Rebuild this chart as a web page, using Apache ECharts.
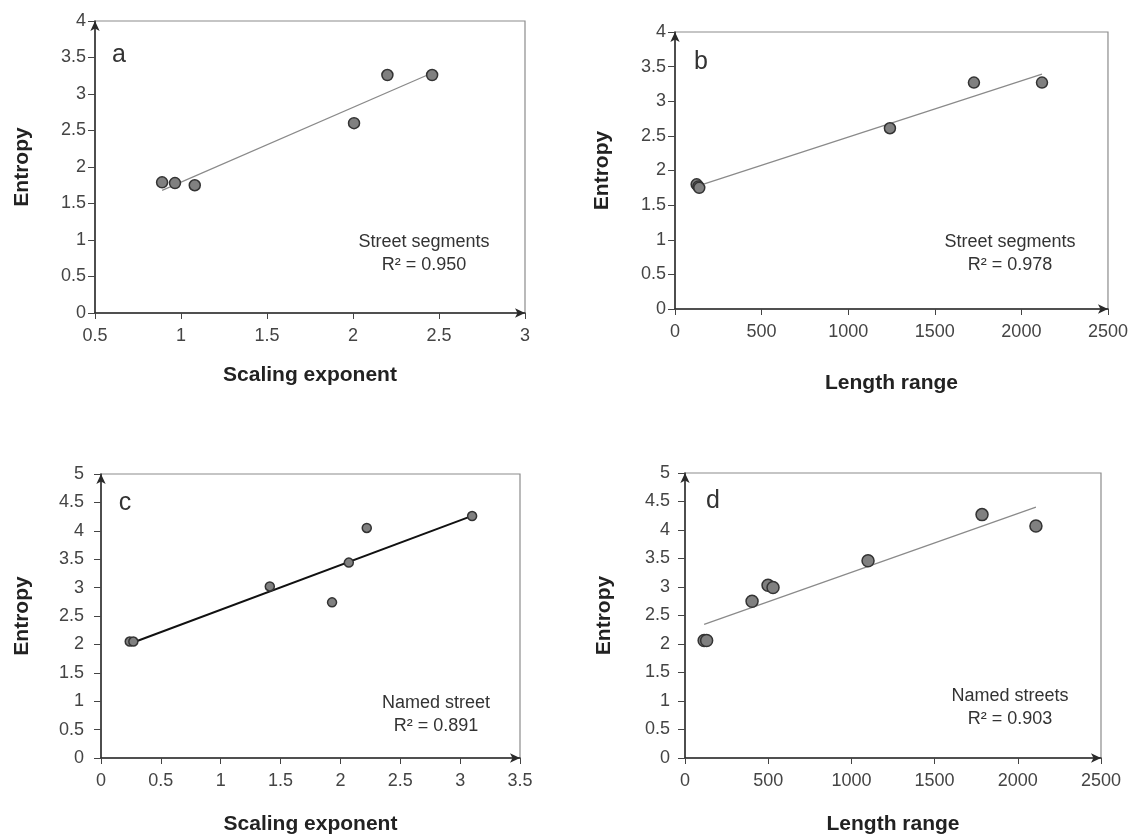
<!DOCTYPE html>
<html>
<head>
<meta charset="utf-8">
<script src="https://cdn.jsdelivr.net/npm/echarts@6/dist/echarts.min.js"></script>
<style>html,body{margin:0;padding:0;background:#fff;}#c{width:1131px;height:836px;}</style>
</head>
<body>
<div id="c"></div>
<script>
// Panel a: Entropy vs scaling exponent (street segments)
const aX = [0.89, 0.965, 1.08, 2.006, 2.2, 2.46];
const aY = [1.79, 1.78, 1.75, 2.60, 3.26, 3.26];
// Panel b: Entropy vs length range (street segments)
const bX = [125, 135, 140, 1241, 1726, 2119];
const bY = [1.80, 1.77, 1.75, 2.61, 3.27, 3.27];
// Panel c: Entropy vs scaling exponent (named streets)
const cX = [0.24, 0.27, 1.41, 1.93, 2.07, 2.22, 3.10];
const cY = [2.05, 2.05, 3.02, 2.74, 3.44, 4.05, 4.26];
// Panel d: Entropy vs length range (named streets)
const dX = [115, 130, 403, 499, 529, 1100, 1785, 2109];
const dY = [2.06, 2.06, 2.75, 3.03, 2.99, 3.46, 4.27, 4.07];

const panelLetters = ['a', 'b', 'c', 'd'];
const panelNotes = ['Street segments\nR² = 0.950', 'Street segments\nR² = 0.978',
                    'Named street\nR² = 0.891', 'Named streets\nR² = 0.903'];
const xNames = ['Scaling exponent', 'Length range', 'Scaling exponent', 'Length range'];
const yName = 'Entropy';

function fit(xs, ys) {
  const n = xs.length;
  const mx = xs.reduce((s, v) => s + v, 0) / n;
  const my = ys.reduce((s, v) => s + v, 0) / n;
  let sxy = 0, sxx = 0;
  for (let i = 0; i < n; i++) { sxy += (xs[i] - mx) * (ys[i] - my); sxx += (xs[i] - mx) ** 2; }
  const k = sxy / sxx, b = my - k * mx;
  const x0 = Math.min(...xs), x1 = Math.max(...xs);
  return [[x0, k * x0 + b], [x1, k * x1 + b]];
}
const pts = (xs, ys) => xs.map((x, i) => [x, ys[i]]);

const FONT = '"Liberation Sans", Arial, sans-serif';
const grids = [
  {left: 95, top: 21, width: 430, height: 292},
  {left: 675, top: 32, width: 433, height: 277},
  {left: 101, top: 474, width: 419, height: 285},
  {left: 685, top: 473, width: 416, height: 289}
];
const xCfg = [
  {min: 0.5, max: 3, interval: 0.5, gap: 52},
  {min: 0, max: 2500, interval: 500, gap: 64},
  {min: 0, max: 3.5, interval: 0.5, gap: 56},
  {min: 0, max: 2500, interval: 500, gap: 56}
];
const yCfg = [
  {max: 4, gap: 62, margin: 9},
  {max: 4, gap: 62, margin: 9},
  {max: 5, gap: 68, margin: 17},
  {max: 5, gap: 70, margin: 15}
];
const data = [[aX, aY], [bX, bY], [cX, cY], [dX, dY]];
const symSizes = [11, 11, 9, 12];
const lineStyles = [
  {color: '#8a8a8a', width: 1.2},
  {color: '#8a8a8a', width: 1.2},
  {color: '#111', width: 2},
  {color: '#8a8a8a', width: 1.2}
];

const axisLine = {show: true, symbol: ['none', 'arrow'], symbolSize: [7, 10], lineStyle: {color: '#2a2a2a', width: 1.5}};
const plain = v => String(v);

const option = {
  backgroundColor: '#fff',
  animation: false,
  grid: grids.map(g => Object.assign({show: true, borderColor: '#8c8c8c', borderWidth: 1.2, backgroundColor: 'transparent'}, g)),
  xAxis: xCfg.map((c, i) => ({
    type: 'value', gridIndex: i, min: c.min, max: c.max, interval: c.interval,
    name: xNames[i], nameLocation: 'middle', nameGap: c.gap,
    nameTextStyle: {fontFamily: FONT, fontWeight: 'bold', fontSize: 21, color: '#222'},
    axisLine: axisLine, splitLine: {show: false},
    axisTick: {show: true, inside: false, length: 6, lineStyle: {color: '#444'}},
    axisLabel: {fontFamily: FONT, fontSize: 18, color: '#444', margin: 14, formatter: plain}
  })),
  yAxis: yCfg.map((c, i) => ({
    type: 'value', gridIndex: i, min: 0, max: c.max, interval: 0.5,
    name: yName, nameLocation: 'middle', nameGap: c.gap, nameRotate: 90,
    nameTextStyle: {fontFamily: FONT, fontWeight: 'bold', fontSize: 21, color: '#222'},
    axisLine: axisLine, splitLine: {show: false},
    axisTick: {show: true, inside: false, length: 7, lineStyle: {color: '#444'}},
    axisLabel: {fontFamily: FONT, fontSize: 18, color: '#444', margin: c.margin, formatter: plain}
  })),
  series: [],
  graphic: []
};

data.forEach((d, i) => {
  option.series.push({
    type: 'line', xAxisIndex: i, yAxisIndex: i, data: fit(d[0], d[1]),
    showSymbol: false, symbol: 'none', lineStyle: lineStyles[i], z: 2, silent: true
  });
  option.series.push({
    type: 'scatter', xAxisIndex: i, yAxisIndex: i, data: pts(d[0], d[1]),
    symbolSize: symSizes[i], z: 3,
    itemStyle: {color: '#808080', borderColor: '#333', borderWidth: 1.5, opacity: 1}
  });
});

const letterPos = [[119, 55], [701, 62], [125, 503], [713, 501]];
const notePos = [[424, 254], [1010, 254], [436, 715], [1010, 708]];
letterPos.forEach((p, i) => {
  option.graphic.push({type: 'text', x: p[0], y: p[1], z: 10,
    style: {text: panelLetters[i], fontFamily: FONT, fontSize: 25, fill: '#333', textAlign: 'center', textVerticalAlign: 'middle'}});
  option.graphic.push({type: 'text', x: notePos[i][0], y: notePos[i][1], z: 10,
    style: {text: panelNotes[i], fontFamily: FONT, fontSize: 18, lineHeight: 23, fill: '#333', textAlign: 'center', textVerticalAlign: 'middle'}});
});

const chart = echarts.init(document.getElementById('c'), null, {renderer: 'canvas'});
chart.setOption(option);
</script>
</body>
</html>
